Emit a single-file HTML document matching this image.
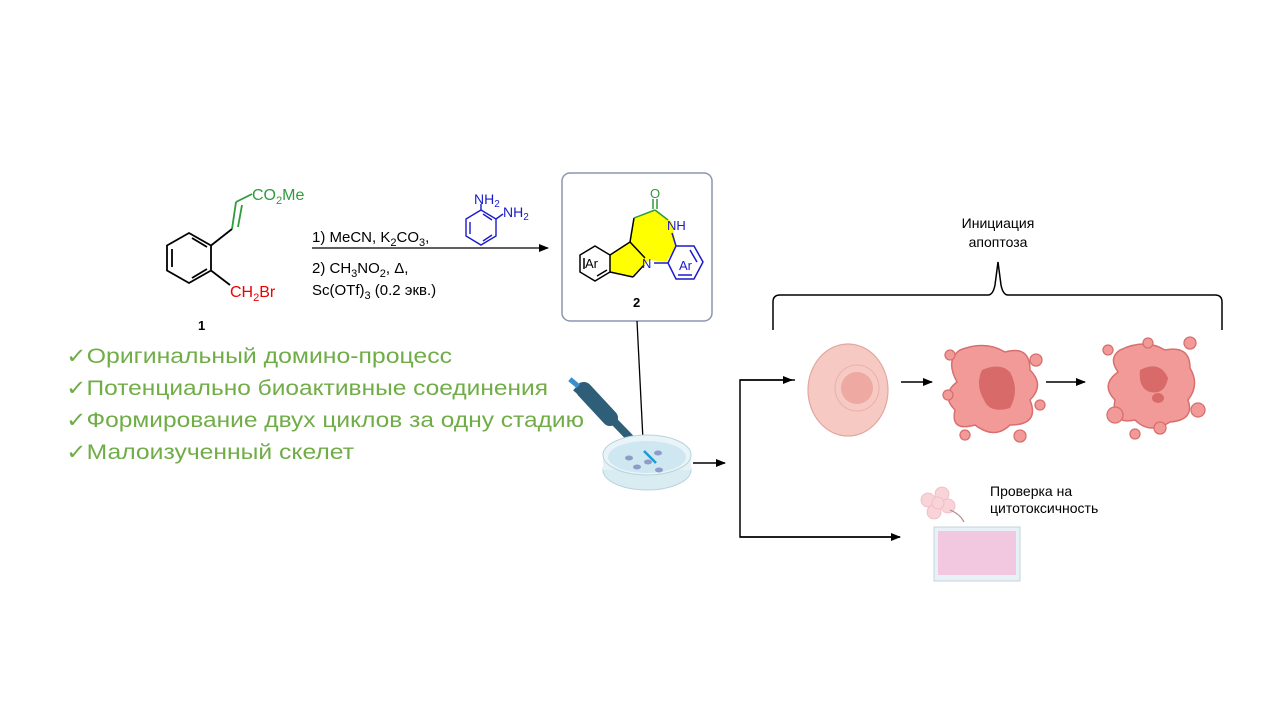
<!DOCTYPE html>
<html><head><meta charset="utf-8"><style>
html,body{margin:0;padding:0;background:#fff}
svg{display:block}
text{font-family:"Liberation Sans",Arial,sans-serif}
</style></head><body>
<svg width="1280" height="720" viewBox="0 0 1280 720" xmlns="http://www.w3.org/2000/svg">
<defs>
<marker id="ah" markerWidth="10" markerHeight="8" refX="9" refY="4" orient="auto" markerUnits="userSpaceOnUse"><path d="M0,0 L10,4 L0,8 Z" fill="#000"/></marker>
</defs>
<!-- compound 1 -->
<g stroke="#000" stroke-width="1.8" fill="none">
<polygon points="189,233 211,245.5 211,270.5 189,283 167,270.5 167,245.5"/>
<line x1="172" y1="249" x2="172" y2="267"/>
<line x1="192" y1="278" x2="207" y2="269"/>
<line x1="192" y1="238" x2="207" y2="247"/>
<line x1="211" y1="245.5" x2="232" y2="229"/>
<line x1="211" y1="270.5" x2="230" y2="285"/>
</g>
<g stroke="#2e9b3c" stroke-width="1.8">
<line x1="232" y1="229" x2="236" y2="202"/>
<line x1="238" y1="227" x2="242" y2="205"/>
<line x1="236" y1="202" x2="252" y2="194"/>
</g>
<text x="252" y="200" font-size="16" fill="#2e9b3c">CO<tspan font-size="11" dy="4">2</tspan><tspan dy="-4">Me</tspan></text>
<text x="230" y="297" font-size="16" fill="#e00">CH<tspan font-size="11" dy="4">2</tspan><tspan dy="-4">Br</tspan></text>
<text x="198" y="330" font-size="13" font-weight="bold">1</text>
<!-- reagents -->
<line x1="312" y1="248" x2="548" y2="248" stroke="#000" stroke-width="1.3" marker-end="url(#ah)"/>
<text x="312" y="242" font-size="15">1) MeCN, K<tspan font-size="11" dy="4">2</tspan><tspan dy="-4">CO</tspan><tspan font-size="11" dy="4">3</tspan><tspan dy="-4">,</tspan></text>
<text x="312" y="273" font-size="15">2) CH<tspan font-size="11" dy="4">3</tspan><tspan dy="-4">NO</tspan><tspan font-size="11" dy="4">2</tspan><tspan dy="-4">, Δ,</tspan></text>
<text x="312" y="295" font-size="15">Sc(OTf)<tspan font-size="11" dy="4">3</tspan><tspan dy="-4"> (0.2 экв.)</tspan></text>
<g stroke="#1a1acc" stroke-width="1.4" fill="none">
<polygon points="481,210 496,219 496,236 481,245 466,236 466,219"/>
<line x1="470" y1="222" x2="470" y2="234"/>
<line x1="483" y1="241" x2="492" y2="235"/>
<line x1="483" y1="214" x2="492" y2="220"/>
<line x1="481" y1="210" x2="481" y2="204"/>
<line x1="496" y1="219" x2="503" y2="214"/>
</g>
<text x="474" y="204" font-size="14" fill="#1a1acc">NH<tspan font-size="10" dy="3">2</tspan></text>
<text x="503" y="217" font-size="14" fill="#1a1acc">NH<tspan font-size="10" dy="3">2</tspan></text>
<!-- product box -->
<rect x="562" y="173" width="150" height="148" rx="8" fill="#fff" stroke="#8a96b0" stroke-width="1.5"/>
<polygon points="610,255 630,242 634,218 655,210 672,222 676,246 666,262 649,260 633,277 610,272" fill="#ffff00"/>
<g stroke="#000" stroke-width="1.5" fill="none">
<polygon points="595,246 610,255 610,272 595,281 580,272 580,255"/>
<line x1="584" y1="258" x2="584" y2="269"/>
<line x1="597" y1="276" x2="607" y2="270"/>
<line x1="610" y1="255" x2="630" y2="242"/>
<line x1="630" y1="242" x2="645" y2="258"/>
<line x1="610" y1="272" x2="633" y2="277"/>
<line x1="633" y1="277" x2="644" y2="265"/>
<line x1="630" y1="242" x2="634" y2="218"/>
</g>
<g stroke="#2e9b3c" stroke-width="1.5">
<line x1="634" y1="218" x2="655" y2="210"/>
<line x1="655" y1="210" x2="668" y2="220"/>
<line x1="653" y1="209" x2="653" y2="199"/><line x1="657" y1="209" x2="657" y2="199"/>
</g>
<text x="650" y="198" font-size="13" fill="#2e9b3c">O</text>
<text x="667" y="230" font-size="13" fill="#1a1acc">NH</text>
<text x="642" y="268" font-size="13" fill="#1a1acc">N</text>
<g stroke="#1a1acc" stroke-width="1.5" fill="none">
<line x1="672" y1="233" x2="676" y2="246"/>
<line x1="654" y1="263" x2="668" y2="263"/>
<polygon points="676,246 694,246 703,262 694,279 676,279 668,263"/>
<line x1="690" y1="250" x2="697" y2="262"/>
<line x1="678" y1="275" x2="692" y2="275"/>
</g>
<text x="585" y="268" font-size="13" fill="#000">Ar</text>
<text x="679" y="270" font-size="13" fill="#1a1acc">Ar</text>
<text x="633" y="307" font-size="13" font-weight="bold">2</text>
<!-- connector to dish -->
<line x1="637" y1="321" x2="644" y2="460" stroke="#000" stroke-width="1.3"/>
<!-- green bullets -->
<g fill="#70ad47" font-size="21">
<text x="66" y="363" textLength="386" lengthAdjust="spacingAndGlyphs">✓Оригинальный домино-процесс</text>
<text x="66" y="395" textLength="482" lengthAdjust="spacingAndGlyphs">✓Потенциально биоактивные соединения</text>
<text x="66" y="427" textLength="518" lengthAdjust="spacingAndGlyphs">✓Формирование двух циклов за одну стадию</text>
<text x="66" y="459" textLength="288" lengthAdjust="spacingAndGlyphs">✓Малоизученный скелет</text>
</g>
<!-- pipette -->
<g>
<line x1="584" y1="390" x2="610" y2="418" stroke="#2f5f78" stroke-width="16" stroke-linecap="round"/>
<line x1="605" y1="412" x2="632" y2="440" stroke="#2f5f78" stroke-width="8"/>
<line x1="630" y1="438" x2="645" y2="452" stroke="#2f5f78" stroke-width="4"/>
<line x1="575" y1="392" x2="582" y2="384" stroke="#2f5f78" stroke-width="5"/>
<rect x="569" y="380" width="11" height="5" fill="#3a8fd0" transform="rotate(40 574 382)"/>
<line x1="644" y1="451" x2="656" y2="463" stroke="#1a9ad6" stroke-width="2.5"/>
</g>
<!-- dish -->
<ellipse cx="647" cy="470" rx="44" ry="20" fill="#d9ecf2" stroke="#b9d3dd"/>
<rect x="603" y="455" width="88" height="15" fill="#e4f2f6"/>
<ellipse cx="647" cy="455" rx="44" ry="20" fill="#e8f4f8" stroke="#b9d3dd"/>
<ellipse cx="647" cy="457" rx="39" ry="16" fill="#cfe7f0"/>
<line x1="644" y1="451" x2="656" y2="463" stroke="#1a9ad6" stroke-width="2.5"/>
<g fill="#8e9dc8"><ellipse cx="629" cy="458" rx="4" ry="2.5"/><ellipse cx="637" cy="467" rx="4" ry="2.5"/><ellipse cx="648" cy="462" rx="4" ry="2.5"/><ellipse cx="658" cy="453" rx="4" ry="2.5"/><ellipse cx="659" cy="470" rx="4" ry="2.5"/></g>
<!-- arrows -->
<g stroke="#000" stroke-width="1.5" fill="none">
<line x1="693" y1="463" x2="725" y2="463" marker-end="url(#ah)"/>
<polyline points="795,380 740,380 740,537 900,537"/>
<line x1="740" y1="380" x2="792" y2="380" marker-end="url(#ah)"/>
<line x1="740" y1="537" x2="900" y2="537" marker-end="url(#ah)"/>
<line x1="901" y1="382" x2="932" y2="382" marker-end="url(#ah)"/>
<line x1="1046" y1="382" x2="1085" y2="382" marker-end="url(#ah)"/>
<path d="M773,330 V302 Q773,295 780,295 H988 Q993,295 995,285 L998,262 L1001,285 Q1003,295 1008,295 H1215 Q1222,295 1222,302 V330"/>
</g>
<text x="998" y="228" font-size="14" text-anchor="middle">Инициация</text>
<text x="998" y="247" font-size="14" text-anchor="middle">апоптоза</text>
<!-- cell 1 -->
<ellipse cx="848" cy="390" rx="40" ry="46" fill="#f7c9c3" stroke="#e0a8a0" stroke-width="1.2"/>
<ellipse cx="857" cy="388" rx="22" ry="23" fill="none" stroke="#eab1aa"/>
<ellipse cx="857" cy="388" rx="16" ry="16" fill="#eea9a2"/>
<!-- cell 2 -->
<path d="M960,350 Q985,340 1005,352 Q1030,345 1030,370 Q1045,385 1030,400 Q1040,425 1010,425 Q995,440 975,425 Q950,432 955,410 Q940,395 957,382 Q945,360 960,350Z" fill="#f29a98" stroke="#d86f6f" stroke-width="1.5"/>
<path d="M982,370 Q1000,362 1010,372 Q1020,390 1010,408 Q990,414 984,400 Q975,385 982,370Z" fill="#d86a6a"/>
<g fill="#f29a98" stroke="#d86f6f" stroke-width="1.3"><circle cx="1036" cy="360" r="6"/><circle cx="1040" cy="405" r="5"/><circle cx="948" cy="395" r="5"/><circle cx="965" cy="435" r="5"/><circle cx="1020" cy="436" r="6"/><circle cx="950" cy="355" r="5"/></g>
<!-- cell 3 -->
<path d="M1120,350 Q1145,338 1165,350 Q1190,345 1190,368 Q1200,385 1188,400 Q1195,420 1170,422 Q1150,435 1135,420 Q1110,425 1115,400 Q1100,385 1118,372 Q1108,358 1120,350Z" fill="#f29a98" stroke="#d86f6f" stroke-width="1.5"/>
<path d="M1140,370 Q1160,360 1168,378 Q1165,395 1150,392 Q1138,388 1140,370Z" fill="#d86a6a"/>
<ellipse cx="1158" cy="398" rx="6" ry="5" fill="#d86a6a"/>
<g fill="#f29a98" stroke="#d86f6f" stroke-width="1.3"><circle cx="1108" cy="350" r="5"/><circle cx="1190" cy="343" r="6"/><circle cx="1198" cy="410" r="7"/><circle cx="1115" cy="415" r="8"/><circle cx="1160" cy="428" r="6"/><circle cx="1135" cy="434" r="5"/><circle cx="1148" cy="343" r="5"/></g>
<!-- cluster + plate -->
<g fill="#f8d3d8" stroke="#efb8c0" stroke-width="0.8"><circle cx="928" cy="500" r="7"/><circle cx="942" cy="494" r="7"/><circle cx="948" cy="506" r="7"/><circle cx="934" cy="512" r="7"/><circle cx="938" cy="503" r="6"/></g>
<path d="M950,510 Q960,514 964,522" stroke="#b58a90" fill="none" stroke-width="1.2"/>
<rect x="934" y="527" width="86" height="54" fill="#e8f1f6" stroke="#c5d4de"/>
<rect x="938" y="531" width="78" height="44" fill="#f1c8df"/>
<text x="990" y="496" font-size="14">Проверка на</text>
<text x="990" y="513" font-size="14">цитотоксичность</text>
</svg>
</body></html>
